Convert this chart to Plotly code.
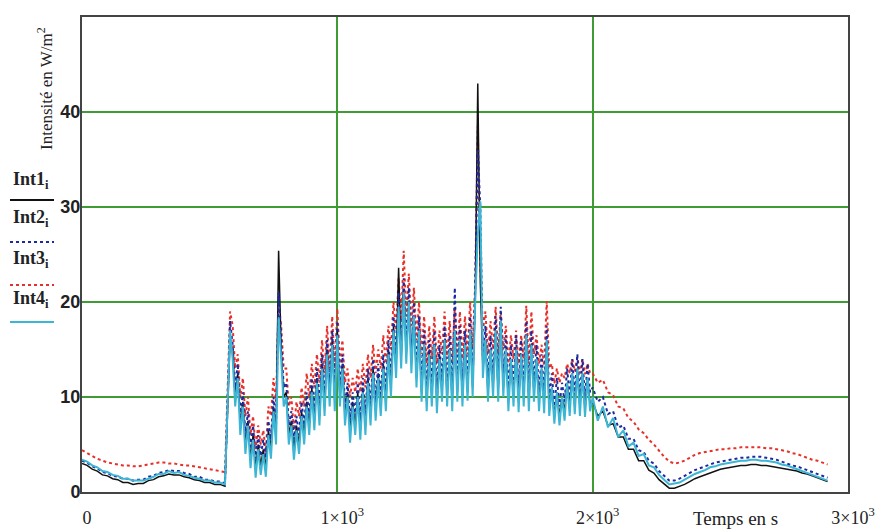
import plotly.graph_objects as go

# ---- sample times (s) ----
t_a = list(range(0, 580, 20))        # quiet start
t_b = list(range(580, 2000, 10))     # oscillating middle
t_c = list(range(2000, 2930, 20))    # quiet end
time_s = t_a + t_b + t_c

# ---- Int1 (black, solid) ----
int1_a = [3.0, 2.8, 2.4, 2.2, 1.8, 1.7, 1.4, 1.3, 1.0, 1.0, 0.8, 0.9, 0.9, 1.2, 1.3, 1.6, 1.7, 1.9, 1.8, 1.8,
          1.6, 1.5, 1.3, 1.2, 1.0, 1.0, 0.8, 0.8, 0.6]
int1_b = [16, 15, 10, 12.5, 7, 9.5, 5, 7.5, 3.5, 6,
          2.5, 5, 2.8, 4.5, 2.5, 6.5, 4.5, 9, 6, 25.4,
          15, 10, 10.5, 6, 7.5, 4.5, 7, 5, 8.5, 6,
          9.5, 7, 11, 7.5, 12, 8, 13.5, 9, 15, 10,
          16, 9.5, 17, 10, 13.5, 8, 10.5, 6.5, 9.5, 7,
          10.5, 6.5, 11, 7, 12, 8, 13, 8.5, 12.5, 9,
          13.5, 9.5, 15, 11, 17.5, 13, 23.6, 14, 21, 14.5,
          20, 13.5, 18.5, 12, 17, 10.5, 15.5, 9.5, 15, 10,
          15.5, 9.5, 14.5, 10.5, 16, 10, 15, 9.5, 17, 10.5,
          16, 10, 15.5, 10.5, 17, 11, 20, 43, 22, 13,
          16, 10.5, 15, 11, 17, 10.5, 18, 11, 15, 9.5,
          14, 10, 15, 9.5, 14.5, 10, 16.5, 9.5, 15.5, 10.5,
          14, 9.5, 13, 9.3, 16, 9, 11, 8, 10.5, 8,
          10, 8.5, 11.5, 9, 12.5, 9, 13, 9, 12.5, 8.7,
          12, 9.2]
int1_c = [9.5, 8, 8.5, 7, 7.2, 5.8, 5.8, 4.5, 4.5, 3.3,
          3.3, 2.3, 2.0, 1.3, 0.8, 0.4, 0.4, 0.6, 0.8, 1.1,
          1.4, 1.6, 1.8, 2.0, 2.2, 2.4, 2.5, 2.6, 2.7, 2.8,
          2.8, 2.9, 2.9, 2.8, 2.8, 2.7, 2.6, 2.5, 2.4, 2.3,
          2.2, 2.0, 1.9, 1.7, 1.5, 1.3, 1.1]

# ---- Int2 (blue, dotted) ----
int2_a = [3.3, 3.1, 2.7, 2.5, 2.1, 2.0, 1.7, 1.6, 1.4, 1.4, 1.2, 1.3, 1.3, 1.6, 1.7, 2.0, 2.1, 2.3, 2.2, 2.2,
          2.0, 1.9, 1.6, 1.6, 1.3, 1.3, 1.1, 1.1, 0.9]
int2_b = [18, 15.5, 11, 13.5, 8, 10.5, 6, 8.5, 4.5, 7,
          3.5, 6, 3.8, 5.5, 3.6, 7.5, 5.5, 10, 7, 21,
          16, 11, 11.5, 7, 8.5, 5.5, 8, 6, 9.5, 7,
          10.5, 8, 12, 8.5, 13, 9, 14.5, 10, 16, 11,
          17, 10.5, 18, 11, 14.5, 9, 11.5, 7.5, 10.5, 8,
          11.5, 7.5, 12, 8, 13, 9, 14, 9.5, 13.5, 10,
          14.5, 10.5, 16, 12, 18.5, 14, 21, 15, 22.5, 15.5,
          21.5, 14.5, 20, 13, 18.5, 11.5, 17, 10.5, 16, 11,
          17, 10.5, 15.5, 11.5, 17.5, 11, 16.5, 10.5, 21.5, 11.5,
          17.5, 11, 17, 11.5, 18.5, 12, 21.5, 36, 30, 14,
          17.5, 11.5, 16.5, 12, 18.5, 11.5, 19.5, 12, 16.5, 10.5,
          15.5, 11, 16.5, 10.5, 16, 11, 18, 10.5, 17, 11.5,
          15.5, 10.5, 14.5, 10.3, 17.5, 10, 12.5, 9, 12, 9,
          11.5, 9.5, 13, 10, 14, 10.2, 14.5, 10, 14, 9.9,
          13.5, 10.5]
int2_c = [11, 9.5, 10, 8.2, 8.5, 6.8, 7, 5.6, 5.6, 4.4,
          4.2, 3.3, 3.0, 2.2, 1.7, 1.2, 1.2, 1.4, 1.7, 2.0,
          2.3, 2.5, 2.7, 2.9, 3.1, 3.2, 3.3, 3.4, 3.5, 3.6,
          3.6, 3.7, 3.7, 3.7, 3.6, 3.5, 3.4, 3.2, 3.0, 2.8,
          2.7, 2.5, 2.3, 2.1, 1.9, 1.7, 1.5]

# ---- Int3 (red, dotted) ----
int3_a = [4.4, 4.1, 3.8, 3.5, 3.3, 3.1, 3.0, 2.9, 2.8, 2.8, 2.7, 2.7, 2.8, 2.9, 3.0, 3.1, 3.1, 3.0, 3.0, 2.9,
          2.8, 2.8, 2.7, 2.6, 2.5, 2.4, 2.3, 2.2, 2.1]
int3_b = [19, 17.5, 13, 14.5, 10, 12, 8, 10, 6, 8,
          4.5, 7, 5, 6.5, 4.2, 9, 8, 12, 9.5, 20,
          17.5, 13, 13, 9, 10, 6.5, 9.5, 8, 11, 9,
          12.5, 10, 13.5, 11, 14.5, 11.5, 16, 12.5, 17.5, 13,
          18.5, 13, 19.3, 13.5, 16, 11.5, 13, 10, 12, 10.5,
          13, 10.5, 13.5, 11, 14.5, 12, 15.5, 12.5, 15, 13,
          16.5, 13.5, 17.5, 15, 20, 17, 22.5, 18, 25.4, 18.5,
          23, 17.5, 21.5, 16, 20, 14.5, 18.5, 13.5, 17.5, 14,
          18.5, 13.5, 17, 14.5, 19, 14, 18, 13.5, 19.4, 14.5,
          19, 14, 18.5, 14.5, 20, 15, 22, 38.5, 24, 17,
          19, 14.5, 18, 15, 19.5, 14.5, 19, 15, 17.5, 13.5,
          16.5, 14, 17, 13.5, 16.5, 14, 19.6, 13.5, 19, 14.5,
          16.5, 13.5, 15.5, 13.3, 20.1, 13, 13.5, 11.4, 13, 11.5,
          12.5, 12, 13.5, 12.5, 14, 12.7, 14.2, 12.5, 14, 12.4,
          13.5, 12.5]
int3_c = [12.5, 11.5, 11.8, 10.5, 10.2, 9, 8.8, 7.8, 7.4, 6.6,
          6.2, 5.5, 5.0, 4.3, 3.7, 3.2, 3.0, 3.1, 3.3, 3.6,
          3.9, 4.1, 4.2, 4.3, 4.4, 4.5, 4.5, 4.6, 4.6, 4.7,
          4.7, 4.7, 4.7, 4.7, 4.6, 4.6, 4.5, 4.4, 4.3, 4.1,
          4.0, 3.8, 3.6, 3.4, 3.3, 3.1, 2.9]

# ---- Int4 (cyan, solid) ----
int4_a = [3.4, 3.2, 2.8, 2.6, 2.2, 2.1, 1.8, 1.7, 1.4, 1.4, 1.2, 1.2, 1.2, 1.4, 1.6, 1.9, 1.9, 2.2, 2.0, 2.1,
          1.8, 1.7, 1.5, 1.4, 1.2, 1.2, 1.0, 1.0, 0.8]
int4_b = [17, 14, 9, 12, 6, 9, 4, 7, 2.5, 5.5,
          1.5, 4.5, 1.8, 4, 1.6, 6, 3.5, 8.5, 5, 18.4,
          14, 9, 10, 5, 7, 3.4, 6.5, 4, 8, 5,
          9, 6, 10.5, 6.5, 11.5, 7, 13, 8, 14.5, 9,
          15.5, 8.5, 16.5, 9, 13, 7, 10, 5.2, 9, 6,
          10, 5.5, 10.5, 6, 11.5, 7, 12.5, 7.5, 12, 8,
          13, 8.5, 14.5, 10, 17, 12, 19.5, 13, 21, 13.5,
          20, 12.5, 18.5, 11, 17, 9.5, 15.5, 8.5, 14.5, 9,
          15.5, 8.3, 14, 9.5, 16, 9, 15, 8.5, 17, 9.5,
          16, 9, 15.5, 9.6, 17, 10, 20, 27, 30.6, 12,
          16, 9.5, 15, 10, 17, 9.5, 18, 10, 15, 8.5,
          14, 9, 15, 8.4, 14.5, 9, 16.5, 8.5, 15.5, 9.5,
          14, 8.5, 13, 8.3, 16, 8, 11, 7.2, 10.5, 7,
          10, 7.5, 11.5, 8, 12.5, 8.2, 13, 8, 12.5, 7.9,
          12, 8.5]
int4_c = [10, 7.5, 9, 6.8, 7.8, 5.8, 6.5, 4.8, 5.2, 3.8,
          4.0, 2.8, 2.6, 1.8, 1.3, 0.8, 0.9, 1.0, 1.3, 1.6,
          1.9, 2.1, 2.3, 2.6, 2.7, 2.9, 3.0, 3.1, 3.2, 3.3,
          3.3, 3.4, 3.4, 3.3, 3.3, 3.2, 3.1, 2.9, 2.8, 2.6,
          2.4, 2.2, 2.0, 1.8, 1.6, 1.4, 1.2]

int1 = int1_a + int1_b + int1_c
int2 = int2_a + int2_b + int2_c
int3 = int3_a + int3_b + int3_c
int4 = int4_a + int4_b + int4_c

x_tickvals = [0, 1000, 2000, 3000]
x_ticktext = ["0", "1×10<sup>3</sup>", "2×10<sup>3</sup>", "3×10<sup>3</sup>"]
y_tickvals = [0, 10, 20, 30, 40]
y_ticktext = ["0", "10", "20", "30", "40"]

C_BLACK = "#111111"
C_BLUE = "#1c2a9e"
C_RED = "#e8302a"
C_CYAN = "#3cb6d4"
C_GRID = "#3f9c35"

# page body has an 8px margin: figure is sized/offset to compensate
FIG_W, FIG_H = 875, 523
ML, MR, MT, MB = 74, 35, 9, 39
PW = FIG_W - ML - MR
PH = FIG_H - MT - MB


def px_x(page_x):
    return (page_x - 8 - ML) / PW


def px_y(page_y):
    return 1 - (page_y - 8 - MT) / PH


fig = go.Figure()
fig.add_trace(go.Scatter(x=time_s, y=int3, mode="lines", name="Int3",
                         line=dict(color=C_RED, width=2, dash="dot")))
fig.add_trace(go.Scatter(x=time_s, y=int1, mode="lines", name="Int1",
                         line=dict(color=C_BLACK, width=1.5)))
fig.add_trace(go.Scatter(x=time_s, y=int2, mode="lines", name="Int2",
                         line=dict(color=C_BLUE, width=2, dash="dot")))
fig.add_trace(go.Scatter(x=time_s, y=int4, mode="lines", name="Int4",
                         line=dict(color=C_CYAN, width=2)))

fig.update_layout(
    width=FIG_W, height=FIG_H,
    margin=dict(l=ML, r=MR, t=MT, b=MB, autoexpand=False),
    paper_bgcolor="white", plot_bgcolor="white",
    showlegend=False,
    font=dict(family="Liberation Serif", color="#222222"),
)
fig.update_xaxes(range=[0, 3000], tickvals=x_tickvals, ticktext=x_ticktext,
                 showgrid=True, gridcolor=C_GRID, gridwidth=1.5,
                 showline=True, linecolor="#444444", linewidth=2, mirror=True,
                 ticks="", zeroline=False, ticklabelstandoff=8, ticklabelshift=5,
                 tickfont=dict(family="Liberation Serif", size=18, color="#222222"))
fig.update_yaxes(range=[0, 50], tickvals=y_tickvals, ticktext=y_ticktext,
                 showgrid=True, gridcolor=C_GRID, gridwidth=1.5,
                 showline=True, linecolor="#444444", linewidth=2, mirror=True,
                 ticks="", zeroline=False, ticklabelstandoff=-4,
                 tickfont=dict(family="Liberation Sans", size=18, color="#222222", weight="bold"))

# axis titles
fig.add_annotation(text="Intensité en W/m<sup>2</sup>", xref="paper", yref="paper",
                   x=px_x(45), y=px_y(89), xanchor="center", yanchor="middle",
                   textangle=-90, showarrow=False,
                   font=dict(family="Liberation Serif", size=17, color="#222222"))
fig.add_annotation(text="Temps en s", xref="paper", yref="paper",
                   x=px_x(735), y=px_y(518), xanchor="center", yanchor="middle",
                   showarrow=False,
                   font=dict(family="Liberation Serif", size=19, color="#222222"))

# Mathcad-style legend on the left
legend_items = [("Int1", C_BLACK, "solid", 180, 200),
                ("Int2", C_BLUE, "dot", 219, 242),
                ("Int3", C_RED, "dot", 259, 285),
                ("Int4", C_CYAN, "solid", 299, 322)]
for name, col, dash, ty, ly in legend_items:
    fig.add_annotation(text="<b>" + name + "<sub>i</sub></b>", xref="paper", yref="paper",
                       x=px_x(31), y=px_y(ty), xanchor="center", yanchor="middle",
                       showarrow=False,
                       font=dict(family="Liberation Serif", size=18, color="#222222"))
    fig.add_shape(type="line", xref="paper", yref="paper",
                  x0=px_x(10), x1=px_x(54), y0=px_y(ly), y1=px_y(ly),
                  line=dict(color=col, width=2, dash=dash))

fig.write_html("out.html")
